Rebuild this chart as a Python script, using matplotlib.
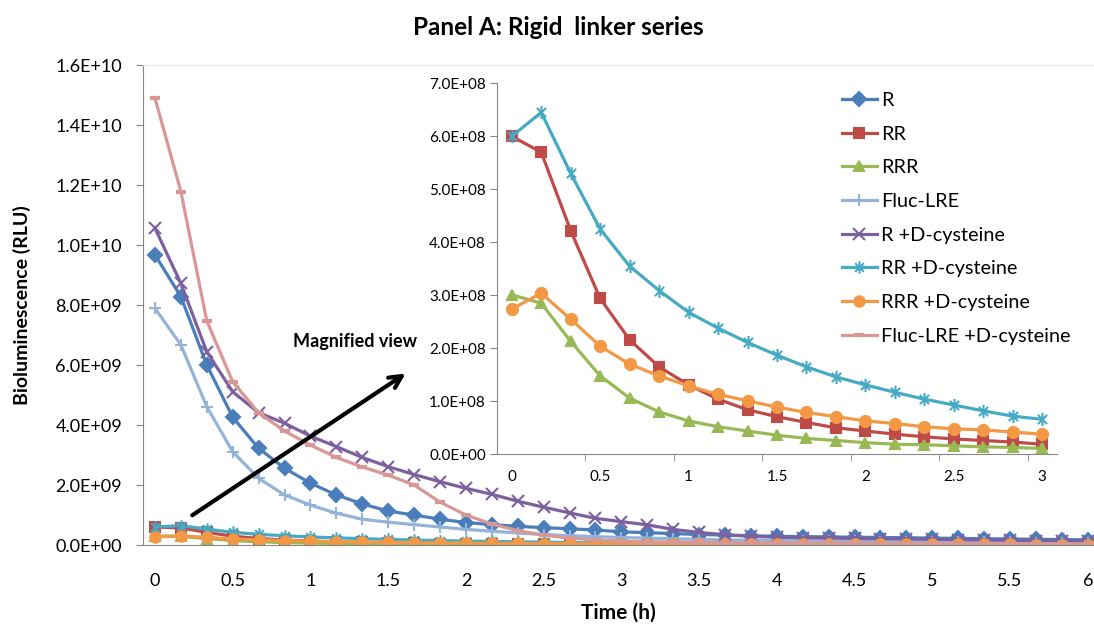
import numpy as np
import matplotlib
matplotlib.use('Agg')
from matplotlib import pyplot as plt
from matplotlib.path import Path
from matplotlib.ticker import FuncFormatter, FixedLocator

plt.rcParams['font.family'] = ['Lato', 'DejaVu Sans']

# time points, every 10 min over 6 h
time_h = np.arange(37) / 6.0

# big series, in units of 1E+09 RLU
r = [9.67, 8.28, 6.0, 4.26, 3.22, 2.56, 2.06, 1.67, 1.37, 1.13, 1.0, 0.86, 0.75,
     0.68, 0.62, 0.58, 0.54, 0.50, 0.44, 0.41, 0.38, 0.35, 0.33, 0.31, 0.29, 0.28,
     0.27, 0.26, 0.25, 0.24, 0.23, 0.22, 0.21, 0.20, 0.19, 0.18, 0.17]
fluc = [7.89, 6.67, 4.61, 3.11, 2.22, 1.67, 1.33, 1.06, 0.86, 0.76, 0.68, 0.60, 0.52,
        0.46, 0.40, 0.35, 0.31, 0.28, 0.25, 0.23, 0.21, 0.19, 0.17, 0.16, 0.15, 0.14,
        0.13, 0.12, 0.11, 0.11, 0.10, 0.10, 0.09, 0.09, 0.08, 0.08, 0.08]
r_dcys = [10.56, 8.72, 6.44, 5.11, 4.41, 4.06, 3.63, 3.28, 2.92, 2.61, 2.35, 2.11, 1.89,
          1.69, 1.46, 1.26, 1.07, 0.89, 0.78, 0.67, 0.52, 0.42, 0.34, 0.29, 0.26, 0.24,
          0.23, 0.22, 0.21, 0.20, 0.19, 0.18, 0.17, 0.16, 0.15, 0.14, 0.13]
fluc_dcys = [14.9, 11.78, 7.47, 5.44, 4.41, 3.80, 3.33, 2.92, 2.60, 2.33, 2.0, 1.43, 1.0,
             0.70, 0.48, 0.33, 0.23, 0.17, 0.13, 0.11, 0.10, 0.09, 0.08, 0.07, 0.07, 0.06,
             0.06, 0.06, 0.05, 0.05, 0.05, 0.05, 0.04, 0.04, 0.04, 0.04, 0.04]

# small series, in units of 1E+08 RLU
rr = [6.0, 5.70, 4.22, 2.94, 2.16, 1.65, 1.31, 1.04, 0.84, 0.71, 0.60, 0.50, 0.44,
      0.38, 0.33, 0.29, 0.26, 0.23, 0.19, 0.17, 0.16, 0.15, 0.14, 0.13, 0.12, 0.11,
      0.10, 0.10, 0.09, 0.09, 0.08, 0.08, 0.07, 0.07, 0.07, 0.06, 0.06]
rrr = [3.01, 2.85, 2.13, 1.48, 1.06, 0.80, 0.63, 0.52, 0.44, 0.36, 0.30, 0.26, 0.22,
       0.19, 0.18, 0.16, 0.14, 0.13, 0.11, 0.10, 0.10, 0.09, 0.09, 0.08, 0.08, 0.07,
       0.07, 0.06, 0.06, 0.06, 0.05, 0.05, 0.05, 0.05, 0.04, 0.04, 0.04]
rr_dcys = [6.0, 6.45, 5.30, 4.25, 3.55, 3.09, 2.68, 2.38, 2.11, 1.87, 1.65, 1.46, 1.31,
           1.17, 1.04, 0.93, 0.82, 0.72, 0.66, 0.60, 0.55, 0.50, 0.46, 0.42, 0.39, 0.36,
           0.33, 0.31, 0.29, 0.27, 0.25, 0.24, 0.22, 0.21, 0.20, 0.19, 0.18]
rrr_dcys = [2.74, 3.04, 2.55, 2.04, 1.70, 1.48, 1.29, 1.13, 1.01, 0.89, 0.79, 0.71, 0.63,
            0.58, 0.52, 0.48, 0.46, 0.42, 0.38, 0.36, 0.34, 0.32, 0.30, 0.28, 0.27, 0.25,
            0.24, 0.23, 0.22, 0.21, 0.20, 0.19, 0.18, 0.17, 0.16, 0.16, 0.15]

labels = ['R', 'RR', 'RRR', 'Fluc-LRE', 'R +D-cysteine', 'RR +D-cysteine',
          'RRR +D-cysteine', 'Fluc-LRE +D-cysteine']
colors = ['#4A7EBB', '#BE4B48', '#98B954', '#95B3D7', '#7D60A0', '#46AAC5',
          '#F39845', '#D99795']

# excel style asterisk marker
c = 0.7
star = Path([(0, -1), (0, 1), (-c, -c), (c, c), (-c, c), (c, -c)],
            [Path.MOVETO, Path.LINETO] * 3)
markers = ['D', 's', '^', '+', 'x', star, 'o', '_']
msizes = [7, 7, 7, 9, 8, 9, 7.5, 7]

series = [np.array(r) * 1e9, np.array(rr) * 1e8, np.array(rrr) * 1e8,
          np.array(fluc) * 1e9, np.array(r_dcys) * 1e9, np.array(rr_dcys) * 1e8,
          np.array(rrr_dcys) * 1e8, np.array(fluc_dcys) * 1e9]

fig = plt.figure(figsize=(10.94, 6.26), dpi=100)
ax = fig.add_axes([143 / 1094, 1 - 545 / 626, 951 / 1094, 480 / 626])

lines = []
for y, lab, col, mk, ms in zip(series, labels, colors, markers, msizes):
    ln, = ax.plot(time_h, y, color=col, lw=2.3, marker=mk, ms=ms,
                  mew=1.5 if mk not in ('_',) else 3, label=lab)
    lines.append(ln)

ax.set_xlim(-0.077, 6.04)
ax.set_ylim(0, 1.6e10)
ax.set_yticks(np.arange(0, 1.61e10, 2e9))
ax.yaxis.set_major_formatter(FuncFormatter(lambda v, p: f'{v:.1E}'))
ax.set_xticks(np.arange(0, 6.01, 0.5))
ax.xaxis.set_major_formatter(FuncFormatter(lambda v, p: f'{v:g}'))
ax.tick_params(axis='y', labelsize=13, length=5, color='#868686', pad=10)
ax.tick_params(axis='x', labelsize=13, length=0, pad=20)
for s in ['right']:
    ax.spines[s].set_visible(False)
ax.spines['top'].set_color('#e4e4e4')
ax.spines['left'].set_color('#868686')
ax.spines['bottom'].set_color('#868686')
ax.set_ylabel('Bioluminescence (RLU)', fontsize=14, fontweight='bold')
ax.set_xlabel('Time (h)', fontsize=15, fontweight='bold')
ax.yaxis.set_label_coords(-0.118, 0.5)
ax.xaxis.set_label_coords(0.5, -0.121)
fig.suptitle('Panel A: Rigid  linker series', x=0.51, y=0.975, fontsize=17.5,
             fontweight='bold')

ax.annotate('', xy=(1.627, 5.77e9), xytext=(0.225, 0.94e9),
            arrowprops=dict(arrowstyle='->', lw=3, color='black', mutation_scale=22))
ax.text(1.286, 6.77e9, 'Magnified view', fontsize=13, fontweight='bold',
        ha='center', va='center')

# inset: first 3 h of the weaker series
n3 = 19
ins = fig.add_axes([497 / 1094, 1 - 454.3 / 626, 560 / 1094, 371 / 626])
ins.patch.set_alpha(0)
for i in [1, 2, 5, 6]:
    ins.plot(time_h[:n3], series[i][:n3], color=colors[i], lw=2.3, marker=markers[i],
             ms=msizes[i] + 0.5, mew=1.5)
ins.set_xlim(-1 / 12, 3 + 1 / 12)
ins.set_ylim(0, 7e8)
ins.set_yticks(np.arange(0, 7.01e8, 1e8))
ins.yaxis.set_major_formatter(FuncFormatter(lambda v, p: f'{v:.1E}'))
ins.set_xticks(np.arange(0, 3.01, 0.5))
ins.xaxis.set_major_formatter(FuncFormatter(lambda v, p: f'{v:g}'))
ins.xaxis.set_minor_locator(FixedLocator(np.arange(5 / 12, 3.0, 0.5)))
ins.tick_params(axis='x', which='major', length=0, labelsize=11, pad=11)
ins.tick_params(axis='x', which='minor', length=5, color='#868686')
ins.tick_params(axis='y', labelsize=11, length=5, color='#868686', pad=3)
for s in ['top', 'right']:
    ins.spines[s].set_visible(False)
ins.spines['left'].set_color('#868686')
ins.spines['bottom'].set_color('#868686')

fig.legend(handles=lines, loc='upper left', bbox_to_anchor=(842 / 1094, 1 - 92 / 626),
           frameon=False, fontsize=14.3, handlelength=1.75, handletextpad=0.2,
           labelspacing=0.84, borderpad=0, borderaxespad=0)

fig.savefig('out.png', dpi=100)
